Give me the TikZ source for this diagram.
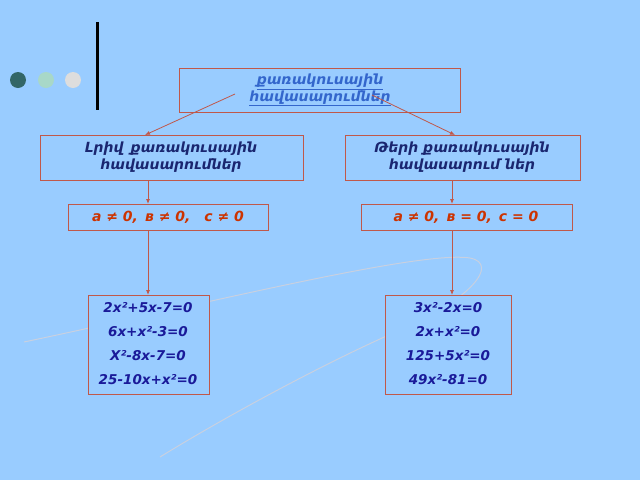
\documentclass[tikz,border=0pt]{standalone}
\usepackage{fontspec}
\setmainfont{DejaVu Sans}
\usetikzlibrary{arrows.meta}
\definecolor{bgblue}{HTML}{99CCFF}
\definecolor{boxred}{HTML}{C0584A}
\definecolor{navy}{HTML}{1A2670}
\definecolor{eqblue}{HTML}{1A1A99}
\definecolor{condred}{HTML}{CC3300}
\definecolor{linkblue}{HTML}{3366CC}
\tikzset{
  tbox/.style={draw=boxred,fill=bgblue,line width=1pt},
  tlabel/.style={align=center,font=\bfseries\itshape\fontsize{14}{17}\selectfont},
  eqlabel/.style={align=center,text=eqblue,font=\bfseries\itshape\fontsize{13.5}{24}\selectfont},
  link/.style={draw=boxred,line width=0.8pt,-{Latex[length=5pt,width=4pt]}}
}
\begin{document}
\begin{tikzpicture}[x=1pt,y=-1pt]
\fill[bgblue] (0,0) rectangle (640,480);
\useasboundingbox (0,0) rectangle (640,480);

% decoration
\filldraw[fill={rgb,255:red,51;green,102;blue,102},draw=none] (18,80) circle [radius=8];
\filldraw[fill={rgb,255:red,168;green,216;blue,200},draw=none] (46,80) circle [radius=8];
\filldraw[fill={rgb,255:red,221;green,221;blue,221},draw=none] (73,80) circle [radius=8];
\draw[line width=3pt] (97,22)--(97,110);
\draw[color={rgb,255:red,200;green,208;blue,224},line width=1pt]
  (24,342) .. controls (200,305) and (420,250) .. (470,258)
  .. controls (500,264) and (470,300) .. (400,330)
  .. controls (320,365) and (220,420) .. (160,457);

% boxes
\draw[tbox] (179,68) rectangle (460,112);
\node[tlabel,text=linkblue] (top) at (320,90) {\underline{քառակուսային}\\\underline{հավասարումներ}};
\draw[tbox] (40,135) rectangle (303,180);
\node[tlabel,text=navy] (full) at (171,157) {Լրիվ\enspace քառակուսային\\հավասարումներ};
\draw[tbox] (345,135) rectangle (580,180);
\node[tlabel,text=navy] (part) at (462,157) {Թերի քառակուսային\\հավասարում ներ};
\draw[tbox] (68,204) rectangle (268,230);
\node[tlabel,text=condred] (condl) at (168,217) {a ≠ 0,\enspace в ≠ 0,\quad c ≠ 0};
\draw[tbox] (361,204) rectangle (572,230);
\node[tlabel,text=condred] (condr) at (466,217) {a ≠ 0,\enspace в = 0,\enspace c = 0};
\draw[tbox] (88,295) rectangle (209,394);
\node[eqlabel] (eql) at (148,344) {2x²+5x-7=0\\6x+x²-3=0\\X²-8x-7=0\\25-10x+x²=0};
\draw[tbox] (385,295) rectangle (511,394);
\node[eqlabel] (eqr) at (448,344) {3x²-2x=0\\2x+x²=0\\125+5x²=0\\49x²-81=0};

% connectors
\coordinate (ta) at (235,94);
\coordinate (tb) at (372,95);
\coordinate (fa) at (145,135);
\coordinate (pa) at (455,135);
\draw[link] (ta) -- (fa);
\draw[link] (tb) -- (pa);
\draw[link] (148,180) -- (148,204);
\draw[link] (452,180) -- (452,204);
\draw[link] (148,230) -- (148,295);
\draw[link] (452,230) -- (452,295);
\end{tikzpicture}
\end{document}
